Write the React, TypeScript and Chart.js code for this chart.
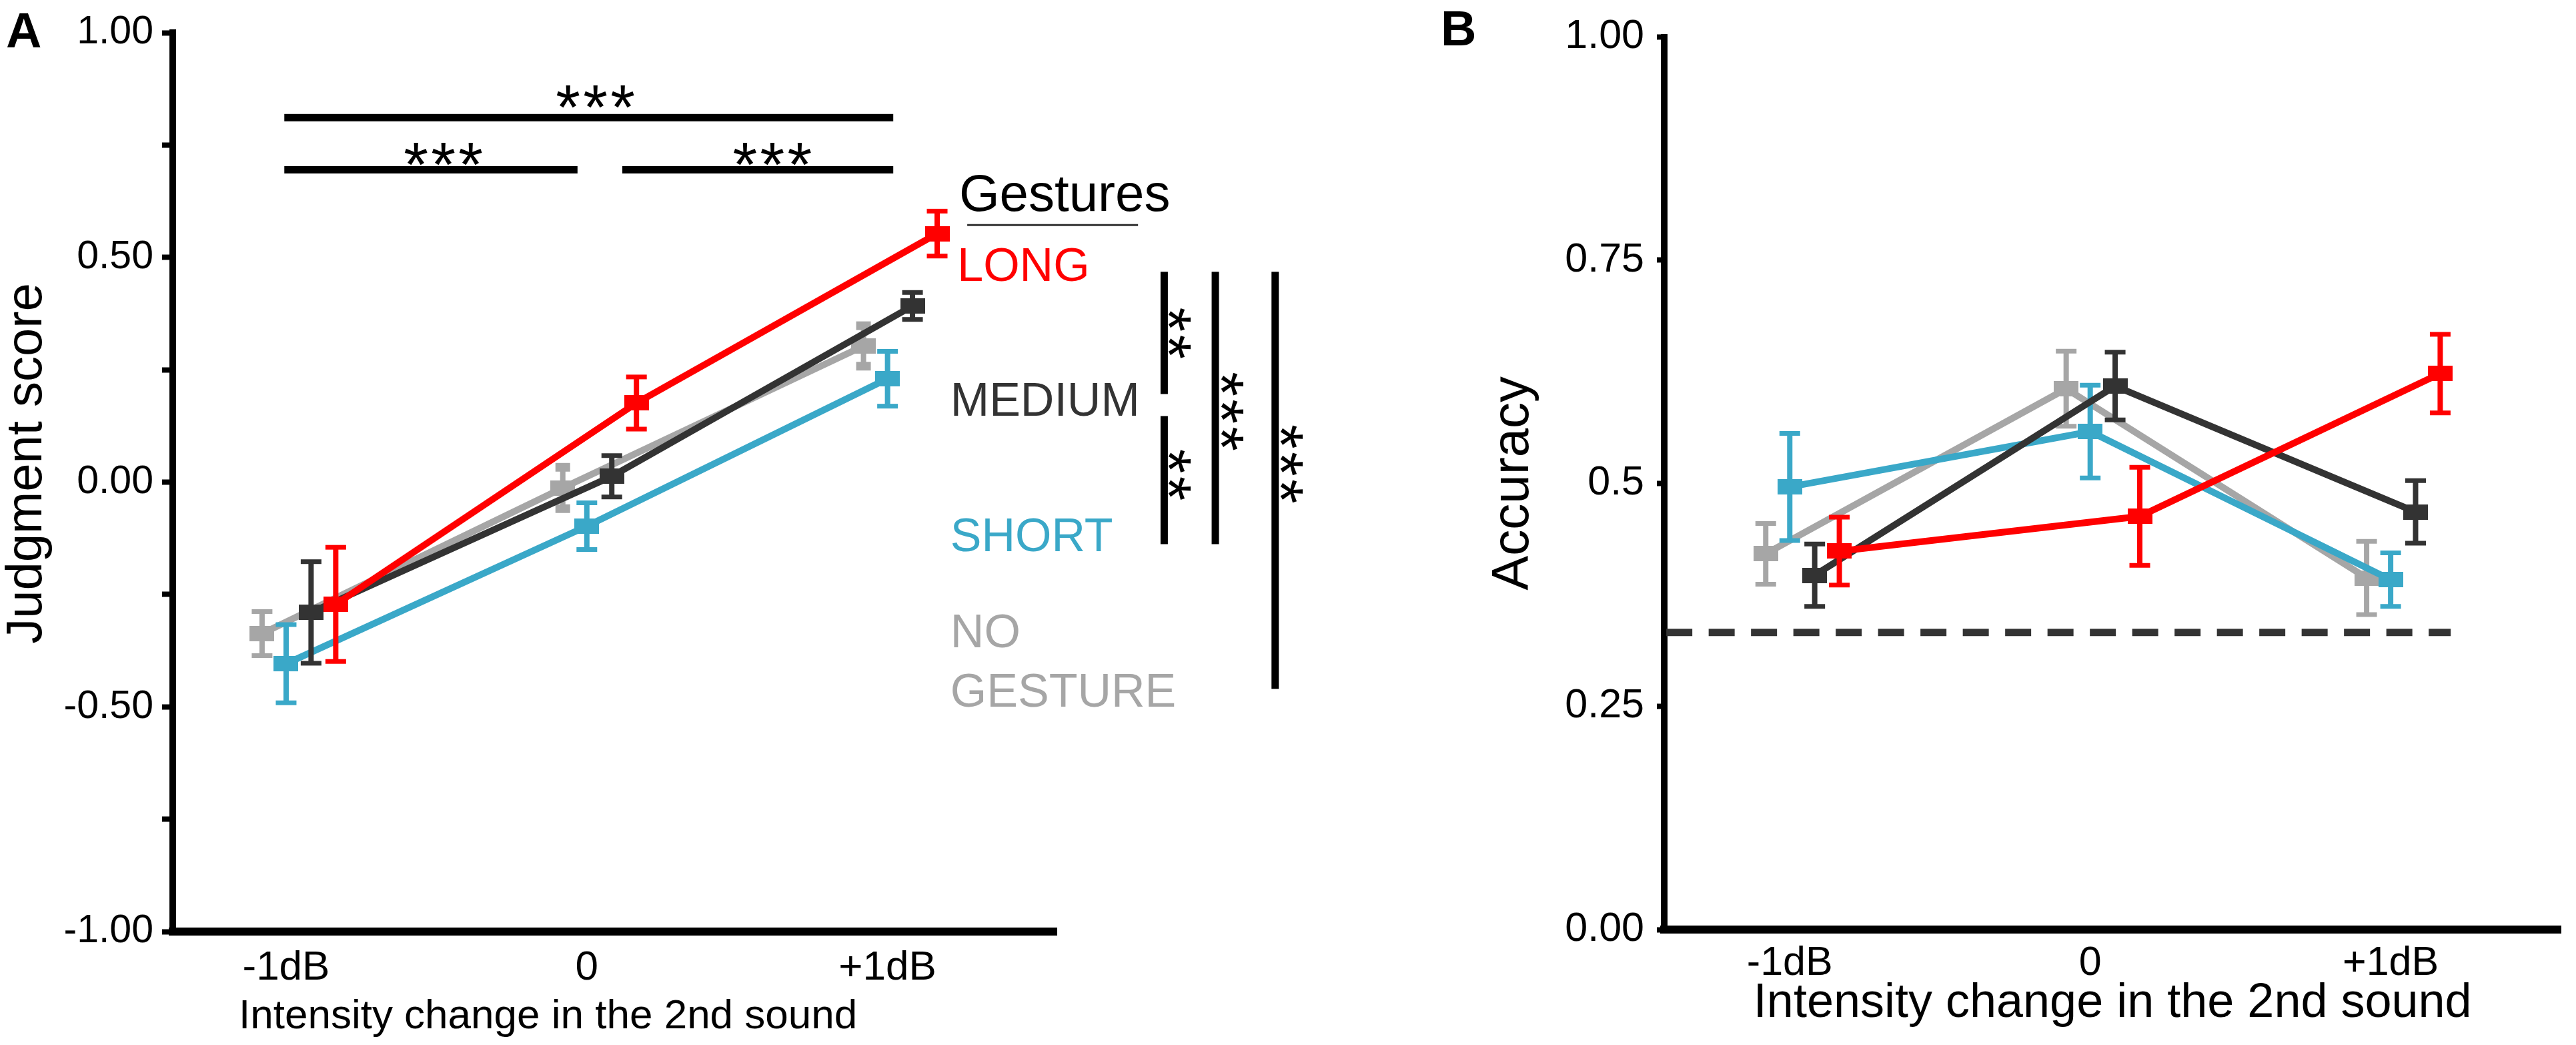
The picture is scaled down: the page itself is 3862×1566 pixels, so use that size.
import React, { useEffect, useRef } from 'react';
import { Chart, registerables } from 'chart.js';
import type { ChartConfiguration, Plugin } from 'chart.js';

Chart.register(...registerables);

const FONT = "'Liberation Sans', Arial, Helvetica, sans-serif";

// x categories: intensity change of the 2nd sound
const levels = [-1, 0, 1];
const levelLabels = ['-1dB', '0', '+1dB'];

// gesture groups, listed bottom-most drawn first
const groups = ['NO GESTURE', 'SHORT', 'MEDIUM', 'LONG'];
const groupColors = ['#a6a6a6', '#3aa8c8', '#333333', '#ff0000'];
const groupShift = [-0.08, 0, 0.083, 0.165];

// panel A: judgment score
const judgNone = [-0.337, -0.013, 0.303];
const judgShort = [-0.404, -0.098, 0.23];
const judgMedium = [-0.29, 0.013, 0.392];
const judgLong = [-0.272, 0.176, 0.553];
const judgNoneErr = [0.049, 0.046, 0.045];
const judgShortErr = [0.087, 0.052, 0.061];
const judgMediumErr = [0.113, 0.046, 0.03];
const judgLongErr = [0.127, 0.058, 0.05];

// panel B: accuracy
const accNone = [0.421, 0.606, 0.394];
const accShort = [0.496, 0.558, 0.392];
const accMedium = [0.397, 0.609, 0.468];
const accLong = [0.424, 0.463, 0.623];
const accNoneErr = [0.034, 0.042, 0.041];
const accShortErr = [0.06, 0.052, 0.03];
const accMediumErr = [0.035, 0.038, 0.035];
const accLongErr = [0.038, 0.055, 0.044];
const chanceLevel = 0.333;

const yTicksA = [-1, -0.75, -0.5, -0.25, 0, 0.25, 0.5, 0.75, 1];
const yLabelsA = ['-1.00', '', '-0.50', '', '0.00', '', '0.50', '', '1.00'];
const yTicksB = [0, 0.25, 0.5, 0.75, 1];
const yLabelsB = ['0.00', '0.25', '0.5', '0.75', '1.00'];

// significance marks of panel A (in axis units)
const sigRows = [
  { from: -1.006, to: 1.019, y: 0.811, starX: 0.029, starY: 0.857, n: 3 },
  { from: -1.006, to: -0.031, y: 0.695, starX: -0.477, starY: 0.73, n: 3 },
  { from: 0.118, to: 1.019, y: 0.695, starX: 0.617, starY: 0.73, n: 3 },
];
const sigColumns = [
  { x: 1.92, spans: [[0.468, 0.196], [0.147, -0.138]], stars: [[1.971, 0.331, 2], [1.971, 0.016, 2]] },
  { x: 2.09, spans: [[0.468, -0.138]], stars: [[2.146, 0.157, 3]] },
  { x: 2.289, spans: [[0.468, -0.46]], stars: [[2.343, 0.04, 3]] },
];
const legendRows = [
  { text: 'LONG', group: 3, x: 1.232, y: 0.448 },
  { text: 'MEDIUM', group: 2, x: 1.209, y: 0.147 },
  { text: 'SHORT', group: 1, x: 1.209, y: -0.153 },
  { text: 'NO', group: 0, x: 1.209, y: -0.368 },
  { text: 'GESTURE', group: 0, x: 1.209, y: -0.5 },
];

const MARKER_W = 37;
const MARKER_H = 23;
const STAR_H = 34;
const STAR_GAP = 41;

function makeMarker(color: string) {
  const c = document.createElement('canvas');
  c.width = MARKER_W;
  c.height = MARKER_H;
  const g = c.getContext('2d');
  if (g) {
    g.fillStyle = color;
    g.fillRect(0, 0, MARKER_W, MARKER_H);
  }
  return c;
}

function buildDatasets(means: number[][], errs: number[][], chunkyGray: boolean) {
  const out: any[] = [];
  groups.forEach((_, i) => {
    const color = groupColors[i];
    const order = (groups.length - 1 - i) * 2;
    out.push({
      data: levels.map((lv, j) => ({ x: lv + groupShift[i], y: means[i][j] })),
      borderColor: color,
      backgroundColor: color,
      borderWidth: 10,
      pointStyle: makeMarker(color),
      pointRadius: 12,
      order,
    });
    const big = (c: any) => chunkyGray && i === 0 && Math.floor(c.dataIndex / 3) > 0;
    out.push({
      data: levels.flatMap((lv, j) => [
        { x: lv + groupShift[i], y: means[i][j] - errs[i][j] },
        { x: lv + groupShift[i], y: means[i][j] + errs[i][j] },
        { x: lv + groupShift[i], y: null },
      ]),
      borderColor: color,
      borderWidth: 8,
      pointStyle: 'line',
      pointRadius: (c: any) => (big(c) ? 11 : 15.5),
      pointBorderWidth: (c: any) => (big(c) ? 13 : 7),
      pointBorderColor: color,
      order: order + 1,
    });
  });
  return out;
}

function drawStars(ctx: CanvasRenderingContext2D, n: number, cx: number, cy: number, vertical: boolean) {
  ctx.save();
  ctx.font = `100px ${FONT}`;
  let m = ctx.measureText('*');
  const size = (100 * STAR_H) / (m.actualBoundingBoxAscent + m.actualBoundingBoxDescent);
  ctx.font = `${size}px ${FONT}`;
  ctx.textAlign = 'left';
  ctx.textBaseline = 'alphabetic';
  ctx.fillStyle = '#000';
  m = ctx.measureText('*');
  const gx = (m.actualBoundingBoxRight - m.actualBoundingBoxLeft) / 2;
  const gy = (m.actualBoundingBoxDescent - m.actualBoundingBoxAscent) / 2;
  for (let k = 0; k < n; k++) {
    const d = (k - (n - 1) / 2) * STAR_GAP;
    ctx.save();
    ctx.translate(vertical ? cx : cx + d, vertical ? cy + d : cy);
    if (vertical) ctx.rotate(Math.PI / 2);
    ctx.fillText('*', -gx, -gy);
    ctx.restore();
  }
  ctx.restore();
}

const panelAExtras: Plugin<'line'> = {
  id: 'panelAExtras',
  afterDraw(chart) {
    const { ctx, chartArea } = chart;
    const xs = chart.scales.x;
    const ys = chart.scales.y;
    const px = (v: number) => xs.getPixelForValue(v);
    const py = (v: number) => ys.getPixelForValue(v);
    ctx.save();
    ctx.fillStyle = '#000';
    sigRows.forEach((r) => {
      ctx.fillRect(px(r.from), py(r.y) - 5.5, px(r.to) - px(r.from), 11);
      drawStars(ctx, r.n, px(r.starX), py(r.starY), false);
    });
    sigColumns.forEach((c) => {
      c.spans.forEach(([a, b]) => ctx.fillRect(px(c.x) - 5.5, py(a), 11, py(b) - py(a)));
      c.stars.forEach(([sx, sy, n]) => drawStars(ctx, n, px(sx), py(sy), true));
    });

    ctx.textAlign = 'left';
    ctx.textBaseline = 'alphabetic';
    ctx.font = `78px ${FONT}`;
    ctx.fillStyle = '#000';
    ctx.fillText('Gestures', px(1.238), py(0.604));
    ctx.fillStyle = '#333';
    ctx.fillRect(px(1.265), py(0.572) - 1.5, px(1.833) - px(1.265), 3);
    ctx.font = `70px ${FONT}`;
    legendRows.forEach((r) => {
      ctx.fillStyle = groupColors[r.group];
      ctx.fillText(r.text, px(r.x), py(r.y));
    });

    // axis titles and panel letter
    ctx.fillStyle = '#000';
    ctx.font = `62px ${FONT}`;
    ctx.fillText('Intensity change in the 2nd sound', chartArea.left + 99, chartArea.bottom + 145);
    ctx.save();
    ctx.translate(62, (chartArea.top + chartArea.bottom) / 2 - 28);
    ctx.rotate(-Math.PI / 2);
    ctx.textAlign = 'center';
    ctx.font = `76px ${FONT}`;
    ctx.fillText('Judgment score', 0, 0);
    ctx.restore();
    ctx.font = `bold 74px ${FONT}`;
    ctx.fillText('A', 9, 71);
    ctx.restore();
  },
};

const panelBExtras: Plugin<'line'> = {
  id: 'panelBExtras',
  afterDraw(chart) {
    const { ctx } = chart;
    ctx.save();
    ctx.fillStyle = '#000';
    ctx.textAlign = 'left';
    ctx.textBaseline = 'alphabetic';
    ctx.font = `bold 74px ${FONT}`;
    ctx.fillText('B', 20, 68);
    ctx.restore();
  },
};

function xScale(min: number, max: number, fontSize: number, pad: number, axisHeight: number, title?: any) {
  return {
    type: 'linear',
    min,
    max,
    afterBuildTicks: (s: any) => {
      s.ticks = levels.map((v) => ({ value: v }));
    },
    afterFit: (s: any) => {
      s.height = axisHeight;
    },
    ticks: {
      autoSkip: false,
      maxRotation: 0,
      minRotation: 0,
      padding: pad,
      color: '#000',
      font: { family: FONT, size: fontSize },
      callback: (v: any) => levelLabels[levels.indexOf(Number(v))] ?? '',
    },
    grid: { display: false, drawTicks: false },
    border: { display: true, color: '#000', width: 12 },
    title: title ?? { display: false },
  };
}

function yScale(min: number, max: number, ticks: number[], labels: string[], opts: any) {
  return {
    type: 'linear',
    min,
    max,
    afterBuildTicks: (s: any) => {
      s.ticks = ticks.map((v) => ({ value: v }));
    },
    afterFit: (s: any) => {
      s.width = opts.width;
    },
    ticks: {
      padding: opts.pad,
      color: '#000',
      font: { family: FONT, size: opts.fontSize },
      callback: (_: any, i: number) => labels[i] ?? '',
    },
    grid: {
      display: true,
      drawOnChartArea: false,
      drawTicks: true,
      tickLength: opts.tickLength,
      tickWidth: 8,
      tickColor: '#000',
      color: '#000',
    },
    border: { display: true, color: '#000', width: 10 },
    title: opts.title ?? { display: false },
  };
}

function configA(): ChartConfiguration<'line'> {
  return {
    type: 'line',
    data: {
      datasets: buildDatasets(
        [judgNone, judgShort, judgMedium, judgLong],
        [judgNoneErr, judgShortErr, judgMediumErr, judgLongErr],
        true
      ),
    },
    options: {
      animation: false,
      responsive: false,
      devicePixelRatio: 1,
      events: [],
      layout: { padding: { left: 0, top: 49, right: 556, bottom: 0 } },
      plugins: { legend: { display: false }, tooltip: { enabled: false } },
      scales: {
        x: xScale(-1.377, 1.562, 62, 18, 170) as any,
        y: yScale(-1, 1, yTicksA, yLabelsA, { width: 259, pad: 13, fontSize: 59, tickLength: 16 }) as any,
      },
    },
    plugins: [panelAExtras],
  };
}

function configB(): ChartConfiguration<'line'> {
  const datasets = buildDatasets(
    [accNone, accShort, accMedium, accLong],
    [accNoneErr, accShortErr, accMediumErr, accLongErr],
    false
  );
  datasets.push({
    data: [
      { x: -1.411, y: chanceLevel },
      { x: 1.2, y: chanceLevel },
    ],
    borderColor: '#333333',
    borderWidth: 11,
    borderDash: [39, 24.5],
    pointRadius: 0,
    order: 20,
  });
  return {
    type: 'line',
    data: { datasets },
    options: {
      animation: false,
      responsive: false,
      devicePixelRatio: 1,
      events: [],
      layout: { padding: { left: 0, top: 45, right: 9, bottom: 0 } },
      plugins: { legend: { display: false }, tooltip: { enabled: false } },
      scales: {
        x: xScale(-1.418, 1.567, 61, 15, 173, {
          display: true,
          text: 'Intensity change in the 2nd sound',
          color: '#000',
          font: { family: FONT, size: 72 },
          padding: { top: 0, bottom: 19 },
        }) as any,
        y: yScale(0, 1, yTicksB, yLabelsB, {
          width: 355,
          pad: 19,
          fontSize: 61,
          tickLength: 11,
          title: {
            display: true,
            text: 'Accuracy',
            color: '#000',
            font: { family: FONT, size: 78 },
            padding: { top: 83, bottom: 0 },
          },
        }) as any,
      },
    },
    plugins: [panelBExtras],
  };
}

export default function App() {
  const refA = useRef<HTMLCanvasElement>(null);
  const refB = useRef<HTMLCanvasElement>(null);

  useEffect(() => {
    document.body.style.margin = '0';
    if (!refA.current || !refB.current) return;
    const a = new Chart(refA.current, configA());
    const b = new Chart(refB.current, configB());
    return () => {
      a.destroy();
      b.destroy();
    };
  }, []);

  return (
    <div style={{ position: 'relative', width: 3862, height: 1566, background: '#fff', overflow: 'hidden' }}>
      <canvas
        ref={refA}
        width={2140}
        height={1566}
        style={{ position: 'absolute', left: 0, top: 0, width: 2140, height: 1566 }}
      />
      <canvas
        ref={refB}
        width={1722}
        height={1566}
        style={{ position: 'absolute', left: 2140, top: 0, width: 1722, height: 1566 }}
      />
    </div>
  );
}
